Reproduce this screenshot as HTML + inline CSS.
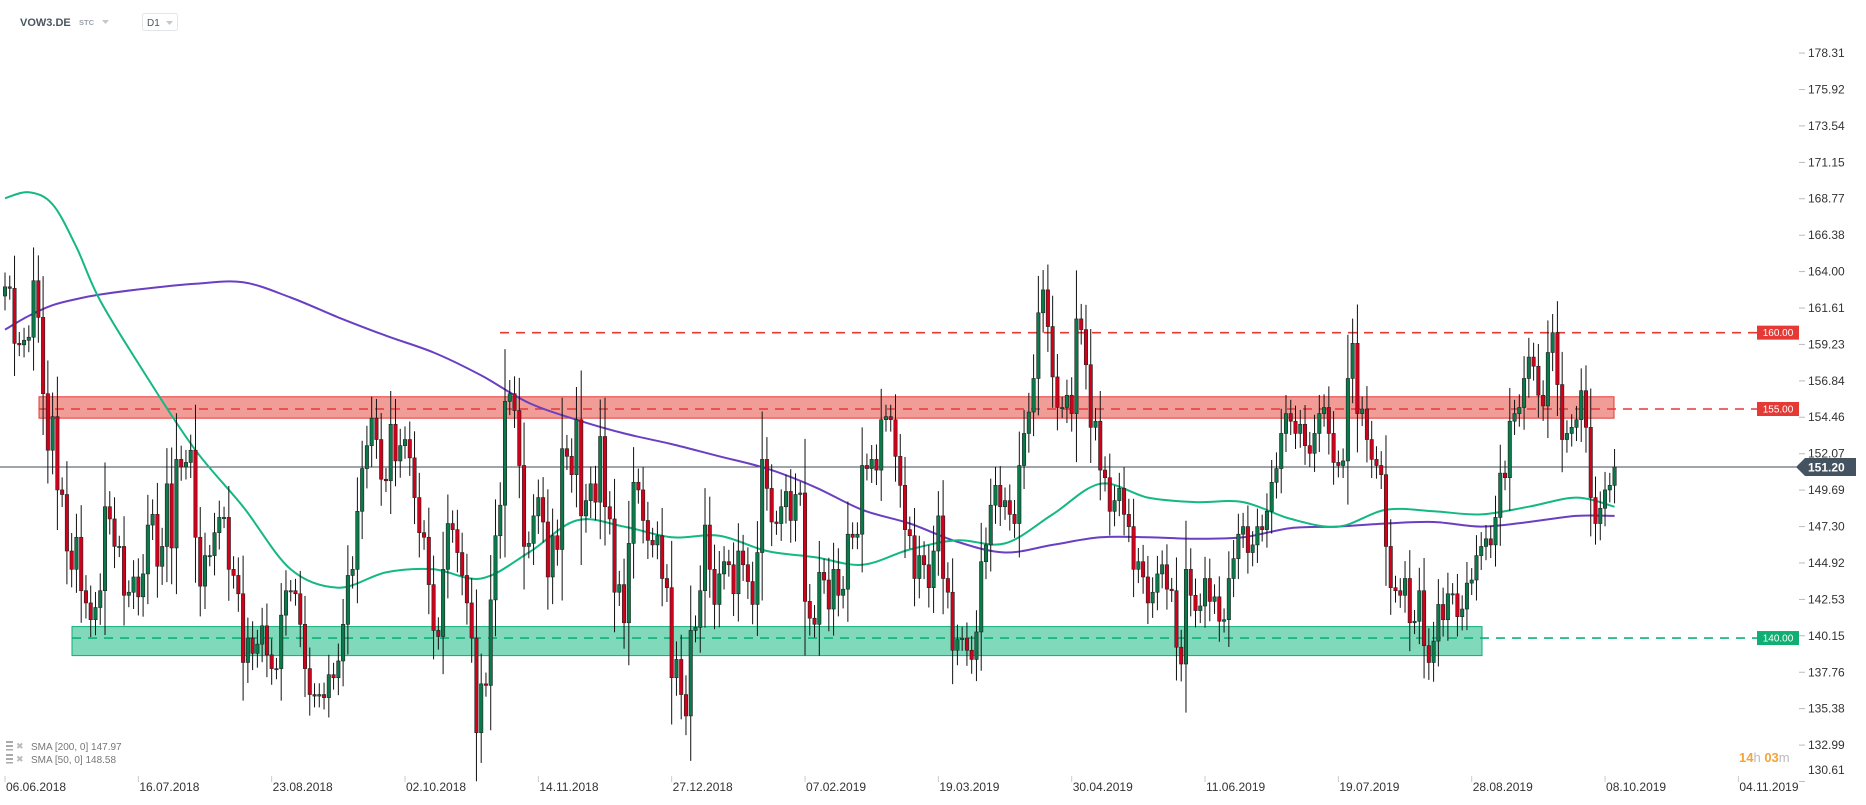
<!DOCTYPE html>
<html><head><meta charset="utf-8">
<style>
html,body{margin:0;padding:0;background:#fff;}
body{width:1866px;height:805px;overflow:hidden;font-family:"Liberation Sans",sans-serif;position:relative;}
svg{position:absolute;left:0;top:0;}
</style></head>
<body>
<svg id="chart" width="1866" height="805">
  <text x="20" y="26" font-size="11" font-weight="bold" fill="#4a5660">VOW3.DE</text>
  <text x="79" y="25" font-size="7.5" font-weight="bold" fill="#9aa3ab">STC</text>
  <path d="M102 20 L109 20 L105.5 24 Z" fill="#c3c8cd"/>
  <rect x="142.5" y="13.5" width="35" height="17" rx="2" fill="#fff" stroke="#e3e6e8"/>
  <text x="147" y="26" font-size="10" fill="#4a5660">D1</text>
  <path d="M166 21 L173 21 L169.5 25 Z" fill="#c3c8cd"/>
  <g id="zones"></g>
  <g id="smas"></g>
  <g id="candles"></g>
  <g id="axis"></g>
  <g>
    <rect x="6" y="741" width="7" height="2" fill="#aaa"/><rect x="6" y="745" width="7" height="2" fill="#aaa"/><rect x="6" y="749" width="7" height="1.5" fill="#aaa"/>
    <text x="16" y="749" font-size="9" fill="#bbb">✖</text>
    <text x="31" y="750" font-size="10" fill="#777">SMA [200,  0] 147.97</text>
    <rect x="6" y="754" width="7" height="2" fill="#aaa"/><rect x="6" y="758" width="7" height="2" fill="#aaa"/><rect x="6" y="762" width="7" height="1.5" fill="#aaa"/>
    <text x="16" y="762" font-size="9" fill="#bbb">✖</text>
    <text x="31" y="763" font-size="10" fill="#777">SMA [50,  0] 148.58</text>
  </g>
  <text x="1739" y="762" font-size="13" font-weight="bold" fill="#f5a33a">14<tspan fill="#bbb" font-weight="normal">h</tspan> 03<tspan fill="#bbb" font-weight="normal">m</tspan></text>
</svg>
<script>
const closes = [163.0,162.9,159.3,159.2,159.5,159.7,163.4,161.0,156.0,152.3,154.5,149.7,149.4,145.7,144.5,146.6,143.1,142.3,141.2,142.0,
143.1,148.6,147.8,146.0,146.0,142.8,143.0,144.0,142.7,144.2,147.4,148.1,144.7,146.0,150.1,145.9,151.7,151.2,151.5,152.3,
146.6,143.4,145.4,145.4,146.9,147.9,147.9,144.5,144.1,142.9,138.4,140.0,139.0,139.6,140.8,138.9,138.0,138.0,141.5,143.1,
143.1,142.9,140.9,138.0,136.3,136.2,136.3,136.1,137.6,137.4,138.5,140.9,144.1,144.5,148.3,151.1,152.6,154.4,153.0,150.4,
150.3,154.0,151.6,152.6,153.0,151.8,149.2,146.9,146.6,143.5,140.5,140.1,144.5,147.5,147.1,145.6,144.1,142.3,140.0,133.8,
137.0,136.9,142.5,146.7,148.7,155.5,156.0,154.9,151.3,146.0,146.2,148.0,149.2,147.6,144.0,146.7,145.8,152.4,151.9,150.7,
154.3,148.0,149.0,150.1,148.9,153.2,148.6,147.8,143.0,143.5,141.0,146.2,150.2,149.7,147.7,146.4,146.1,146.7,143.9,143.3,
137.4,138.6,136.3,134.9,140.5,140.7,143.1,147.4,144.5,142.2,144.2,145.0,144.8,142.9,145.7,144.8,143.7,142.2,145.6,151.7,
149.8,147.6,147.5,148.6,149.6,147.7,149.4,149.5,142.4,141.3,140.9,144.3,143.8,141.9,144.5,142.8,143.2,146.8,146.6,146.8,
151.3,151.1,151.7,151.0,154.3,154.5,154.3,151.9,150.0,147.1,146.7,143.9,145.4,144.8,143.3,145.7,148.0,143.9,143.0,139.2,
139.9,140.0,139.2,138.6,140.4,145.0,146.1,148.7,150.0,148.6,149.0,148.1,147.5,151.3,153.4,154.8,157.0,161.3,162.8,160.4,
157.1,155.1,155.1,155.9,154.7,160.9,160.2,157.9,153.8,154.2,151.0,150.5,148.3,149.0,149.8,148.1,147.3,144.5,145.0,144.0,
142.3,143.0,144.2,144.8,143.2,143.1,139.4,138.3,144.5,142.8,141.8,142.1,143.9,142.4,142.7,141.1,141.2,143.9,145.2,146.8,
147.3,145.6,146.1,147.3,147.1,148.3,150.2,151.1,153.4,154.7,154.2,153.4,154.0,152.6,152.1,153.4,154.7,155.1,153.4,151.5,
151.3,151.6,157.0,159.3,154.7,155.0,153.0,151.7,151.3,150.7,146.0,143.3,143.1,142.8,143.9,141.0,141.1,143.1,139.5,138.4,
139.8,142.2,141.2,142.9,142.9,141.4,141.9,143.6,143.8,145.4,146.0,146.5,146.1,147.9,150.8,150.5,154.2,154.7,155.1,157.0,
158.4,157.8,155.9,155.2,158.7,160.0,156.6,153.0,153.4,153.8,154.3,156.2,153.8,149.2,147.5,148.5,149.7,150.0,151.2];
const smaIndex = [0,5,10,15,20,30,40,50,60,70,80,90,100,110,120,130,140,150,160,170,180,190,200,210,220,230,240,250,260,270,280,290,300,310,320,330,338];
const sma50 = [168.8,169.2,168.4,165.6,162.1,157.0,152.3,148.6,144.5,143.3,144.3,144.5,143.9,145.6,147.7,147.3,146.6,146.7,145.7,145.3,144.8,145.8,146.4,146.2,148.1,150.1,149.2,148.9,148.9,147.8,147.3,148.4,148.3,148.1,148.6,149.2,148.6];
const sma200 = [160.2,161.1,161.8,162.2,162.5,162.9,163.2,163.3,162.3,161.0,159.8,158.7,157.2,155.4,154.3,153.4,152.7,151.9,151.1,149.9,148.4,147.5,146.3,145.6,146.1,146.6,146.6,146.5,146.6,147.2,147.3,147.5,147.6,147.3,147.6,148.0,148.0];
const priceTicks = ["178.31","175.92","173.54","171.15","168.77","166.38","164.00","161.61","159.23","156.84","154.46","152.07","149.69","147.30","144.92","142.53","140.15","137.76","135.38","132.99","130.61"];
const dateLabels = ["06.06.2018","16.07.2018","23.08.2018","02.10.2018","14.11.2018","27.12.2018","07.02.2019","19.03.2019","30.04.2019","11.06.2019","19.07.2019","28.08.2019","08.10.2019","04.11.2019"];
const dateIndex = [0,28,56,84,112,140,168,196,224,252,280,308,336,364];
const lastPrice = 151.20;
const levels = [160, 155, 140];

const NS = "http://www.w3.org/2000/svg";
const X = i => 5 + i * 4.762;
const Y = p => 409 + (155 - p) * 15.27;
function mk(tag, attrs, parent){const e=document.createElementNS(NS,tag);for(const k in attrs)e.setAttribute(k,attrs[k]);parent.appendChild(e);return e;}

const zones = document.getElementById('zones');
let z = mk('rect',{x:39,y:Y(155.8),width:1614-39,height:Y(154.4)-Y(155.8),fill:'#f29c98',stroke:'#e53935','stroke-width':1},zones);


z = mk('rect',{x:72,y:Y(140.75),width:1482-72,height:Y(138.85)-Y(140.75),fill:'#80d9ba',stroke:'#0fae78','stroke-width':1},zones);


const levelStarts = [500, 39, 72];
const levelColors = ['#e53935','#e53935','#10b07a'];
const levelNames = ['level-160','level-155','level-140'];
levels.forEach((lv,k)=>{
  const l = mk('line',{x1:levelStarts[k],x2:1757,y1:Y(lv),y2:Y(lv),stroke:levelColors[k],'stroke-width':1.6,'stroke-dasharray':'9,7'},zones);
  
  
  const t = mk('rect',{x:1757,y:Y(lv)-7,width:42,height:14,fill:k==2?'#0fae72':'#e53935'},zones);
  
  
  const tx = mk('text',{x:1778,y:Y(lv)+3.5,'font-size':10,fill:'#fff','text-anchor':'middle'},zones);
  tx.textContent = lv.toFixed(2);
  
  
});
const pl = mk('line',{x1:0,x2:1797,y1:Y(lastPrice),y2:Y(lastPrice),stroke:'#3f4b57','stroke-width':1},zones);



// SMAs (smooth Catmull-Rom through sampled values)
const smas = document.getElementById('smas');
function smaPath(arr){
  const pts = arr.map((v,k)=>[X(smaIndex[k]),Y(v)]);
  let d = 'M'+pts[0][0].toFixed(1)+' '+pts[0][1].toFixed(1);
  for(let k=0;k<pts.length-1;k++){
    const p0=pts[Math.max(0,k-1)],p1=pts[k],p2=pts[k+1],p3=pts[Math.min(pts.length-1,k+2)];
    const c1=[p1[0]+(p2[0]-p0[0])/6,p1[1]+(p2[1]-p0[1])/6];
    const c2=[p2[0]-(p3[0]-p1[0])/6,p2[1]-(p3[1]-p1[1])/6];
    d+=' C'+c1[0].toFixed(1)+' '+c1[1].toFixed(1)+' '+c2[0].toFixed(1)+' '+c2[1].toFixed(1)+' '+p2[0].toFixed(1)+' '+p2[1].toFixed(1);
  }
  return d;
}
let s = mk('path',{d:smaPath(sma200),fill:'none',stroke:'#6a3fc2','stroke-width':2,'stroke-linejoin':'round'},smas);


s = mk('path',{d:smaPath(sma50),fill:'none',stroke:'#14b884','stroke-width':2,'stroke-linejoin':'round'},smas);



// candles
const cg = document.getElementById('candles');
closes.forEach((c,i)=>{
  const o = i ? closes[i-1] : 162.4;
  const w = 0.7 + 0.4*Math.abs(c-o);
  const hi = Math.max(o,c)+w, lo = Math.min(o,c)-w;
  const x = X(i);
  const g = mk('g',{},cg);
  
  
  mk('line',{x1:x,x2:x,y1:Y(hi),y2:Y(lo),stroke:'#111','stroke-width':1},g);
  const top = Y(Math.max(o,c)), bot = Y(Math.min(o,c));
  mk('rect',{x:x-1.7,y:top,width:3.4,height:Math.max(1.2,bot-top),fill:c>=o?'#0b7a4b':'#d0021b',stroke:'#222','stroke-width':0.6},g);
});

// axes
const ax = document.getElementById('axis');
priceTicks.forEach(t=>{
  const y = Y(parseFloat(t));
  mk('line',{x1:1799,x2:1805,y1:y,y2:y,stroke:'#bbb','stroke-width':1},ax);
  const tx = mk('text',{x:1808,y:Math.min(y,770)+4,'font-size':12,fill:'#333'},ax);
  tx.textContent = t;
  
  
});
dateLabels.forEach((d,k)=>{
  const x = X(dateIndex[k]);
  mk('line',{x1:x,x2:x,y1:776,y2:782,stroke:'#ccc','stroke-width':1},ax);
  const tx = mk('text',{x:x+1,y:791,'font-size':12,fill:'#333'},ax);
  tx.textContent = d;
  
  
});
const lp = mk('path',{d:`M1796 ${Y(lastPrice)} L1805 ${Y(lastPrice)-9} L1856 ${Y(lastPrice)-9} L1856 ${Y(lastPrice)+9} L1805 ${Y(lastPrice)+9} Z`,fill:'#455360'},ax);


const lpt = mk('text',{x:1808,y:Y(lastPrice)+4.5,'font-size':12,'font-weight':'bold',fill:'#fff'},ax);
lpt.textContent = lastPrice.toFixed(2);


</script>
</body></html>
